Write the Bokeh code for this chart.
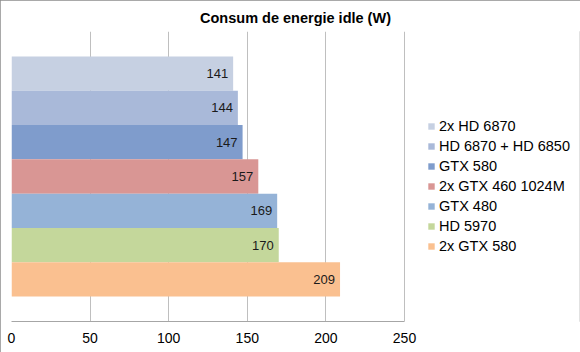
from bokeh.plotting import figure
from bokeh.models import ColumnDataSource, Range1d, Legend, LegendItem, FixedTicker
from bokeh.core.properties import value
from bokeh.embed import file_html
from bokeh.resources import INLINE

title = "Consum de energie idle (W)"
names = ["2x HD 6870", "HD 6870 + HD 6850", "GTX 580", "2x GTX 460 1024M",
         "GTX 480", "HD 5970", "2x GTX 580"]
watts = [141, 144, 147, 157, 169, 170, 209]
colors = ["#c6d0e2", "#a9b9d9", "#7f9ccc", "#d99694", "#95b3d7", "#c4d79b", "#fac090"]
x_ticks = [0, 50, 100, 150, 200, 250]

FONT = "Liberation Sans"

# plot area: axis 0..250 spans 393 px; the frame continues to the right for the legend
W, H = 580, 352
LEFT, RIGHT = 11, 1
axis_px = 393
x_end = 250 * (W - LEFT - RIGHT) / axis_px

src = ColumnDataSource(dict(
    name=names, w=watts, color=colors, pos=list(range(len(names))),
    label=[str(v) for v in watts],
))

p = figure(width=W, height=H, output_backend="svg", toolbar_location=None,
           x_range=Range1d(0, x_end), y_range=Range1d(7.229, -1.229),
           min_border_left=LEFT, min_border_right=RIGHT, min_border_top=31,
           min_border_bottom=31)
p.background_fill_color = "white"
p.border_fill_color = "white"
p.outline_line_color = None
p.styles = {"outline": "1px solid #8c8c8c", "outline-offset": "-1px"}

p.title.text = title
p.title.align = "center"
p.title.text_font = FONT
p.title.text_font_size = "14.5px"
p.title.text_font_style = "bold"
p.title.text_color = "#000000"
p.title.offset = -12
p.title.standoff = 11

bars = p.hbar(y="pos", right="w", left=0, height=1.0, fill_color="color",
              line_color=None, source=src)

p.text(x="w", y="pos", text="label", x_offset=-5, text_align="right",
       text_baseline="middle", text_font=value(FONT), text_font_size="13px",
       text_color="#1a1a1a", source=src)

p.xaxis.ticker = FixedTicker(ticks=x_ticks)
p.xaxis.bounds = (0, 250)
p.xaxis.axis_line_color = "#a6a6a6"
p.xaxis.major_tick_line_color = None
p.xaxis.minor_tick_line_color = None
p.xaxis.major_label_text_font = FONT
p.xaxis.major_label_text_font_size = "14px"
p.xaxis.major_label_text_color = "#000000"
p.xaxis.major_label_standoff = 5
p.yaxis.visible = False
p.xgrid.ticker = FixedTicker(ticks=x_ticks)
p.xgrid.grid_line_color = "#bfbfbf"
p.ygrid.grid_line_color = None

items = [LegendItem(label=n, renderers=[bars], index=i) for i, n in enumerate(names)]
legend = Legend(items=items, location=(416, 65), orientation="vertical",
                glyph_width=8, glyph_height=8, label_standoff=4, spacing=0,
                label_height=20, padding=0, margin=0,
                border_line_color=None, background_fill_alpha=0,
                label_text_font=FONT, label_text_font_size="14.5px",
                label_text_color="#000000")
p.add_layout(legend, "center")

open("out.html", "w").write(file_html(p, INLINE))
